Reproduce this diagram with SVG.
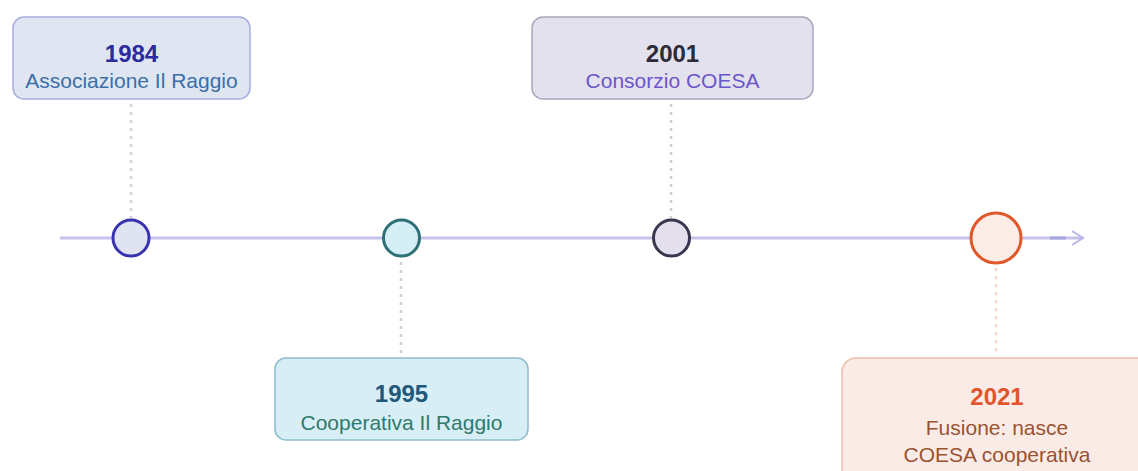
<svg xmlns="http://www.w3.org/2000/svg" width="1138" height="471" viewBox="0 0 1138 471">
<style>
.box{stroke-width:1.5}
.yr{font-family:"Liberation Sans",Arial,sans-serif;font-weight:bold;font-size:24px;text-anchor:middle}
.lb{font-family:"Liberation Sans",Arial,sans-serif;font-size:21px;text-anchor:middle}
.dot{fill:none;stroke-width:2.5;stroke-dasharray:3 5}
.axis{stroke:#c4c2ea;stroke-width:3;fill:none}
.pt{stroke-width:3}
</style>
<defs>
<marker id="arr" markerWidth="16" markerHeight="16" refX="13" refY="8" orient="auto" markerUnits="userSpaceOnUse">
<path d="M2,1 L13,8 L2,15" fill="none" stroke="#b8b5ea" stroke-width="2"/>
</marker>
</defs>
<g id="connectors">
<line class="axis" x1="60" y1="238" x2="1083" y2="238" marker-end="url(#arr)"/>
<line x1="1050" y1="238" x2="1066" y2="238" stroke="#a9a5e0" stroke-width="3"/>
<line class="dot" x1="131" y1="104" x2="131" y2="218" stroke="#d0d0d8"/>
<line class="dot" x1="401" y1="262" x2="401" y2="356" stroke="#d0d0d8"/>
<line class="dot" x1="671" y1="104" x2="671" y2="218" stroke="#d0d0d8"/>
<line class="dot" x1="996" y1="268" x2="996" y2="356" stroke="#f5d6cc"/>
</g>
<g id="n1984">
<rect class="box" x="13" y="17" width="237" height="82" rx="11" fill="#dfe6f2" stroke="#a9ace2"/>
<text class="yr" x="131.5" y="62" fill="#2b2a9e">1984</text>
<text class="lb" x="131.5" y="88" fill="#3b6ea8">Associazione Il Raggio</text>
<circle class="pt" cx="131" cy="238" r="18" fill="#dfe4f0" stroke="#3a33b0"/>
</g>
<g id="n1995">
<rect class="box" x="275" y="358" width="253" height="82" rx="11" fill="#d8eef6" stroke="#8dbccb"/>
<text class="yr" x="401.5" y="402" fill="#1f5878">1995</text>
<text class="lb" x="401.5" y="430" fill="#2f7a6a">Cooperativa Il Raggio</text>
<circle class="pt" cx="401.5" cy="238" r="18" fill="#d6eef5" stroke="#2d7075"/>
</g>
<g id="n2001">
<rect class="box" x="532" y="17" width="281" height="82" rx="11" fill="#e4e1ee" stroke="#aaa5bd"/>
<text class="yr" x="672.5" y="62" fill="#2d2a3a">2001</text>
<text class="lb" x="672.5" y="88" fill="#6a56c8">Consorzio COESA</text>
<circle class="pt" cx="671.5" cy="238" r="18" fill="#e3dfec" stroke="#3b3650"/>
</g>
<g id="n2021">
<rect class="box" x="842" y="358" width="310" height="125" rx="14" fill="#fbebe6" stroke="#f1bcad"/>
<text class="yr" x="997" y="405" fill="#e0552b">2021</text>
<text class="lb" x="997" y="435" fill="#9b5230">Fusione: nasce</text>
<text class="lb" x="997" y="462" fill="#9b5230">COESA cooperativa</text>
<circle class="pt" cx="996" cy="238" r="25" fill="#fbece6" stroke="#e0582c"/>
</g>
</svg>
